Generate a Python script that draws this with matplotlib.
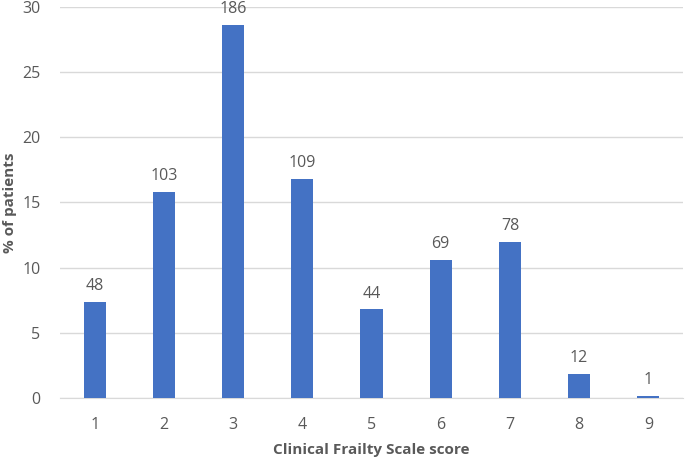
import matplotlib
matplotlib.use("Agg")
import matplotlib.pyplot as plt

categories = ["1", "2", "3", "4", "5", "6", "7", "8", "9"]
percent = [7.4, 15.8, 28.6, 16.8, 6.8, 10.6, 12.0, 1.85, 0.15]
counts = ["48", "103", "186", "109", "44", "69", "78", "12", "1"]

plt.rcParams['font.family'] = ['Open Sans', 'DejaVu Sans']
gray = "#595959"

fig = plt.figure(figsize=(6.85, 4.61), dpi=100)
ax = fig.add_axes([0.0876, 0.1367, 0.9094, 0.8483])
x = list(range(len(categories)))
bars = ax.bar(x, percent, width=0.32, color="#4472C4", zorder=3)
for xi, p, c in zip(x, percent, counts):
    ax.text(xi, p + 0.6, c, ha="center", va="bottom", fontsize=11.5, color=gray)

ax.set_xlim(-0.5, len(categories) - 0.5)
ax.set_ylim(0, 30)
ax.set_yticks([0, 5, 10, 15, 20, 25, 30])
ax.set_xticks(x)
ax.set_xticklabels(categories)
ax.yaxis.grid(True, color="#D9D9D9", linewidth=1, zorder=0)
for s in ["top", "right", "left"]:
    ax.spines[s].set_visible(False)
ax.spines["bottom"].set_color("#D9D9D9")
ax.tick_params(axis="both", length=0, labelsize=11.5, colors=gray)
ax.tick_params(axis="x", pad=14)
ax.tick_params(axis="y", pad=14)
ax.set_xlabel("Clinical Frailty Scale score", fontsize=11, fontweight="bold", color=gray, va="center")
ax.set_ylabel("% of patients", fontsize=11, fontweight="bold", color=gray, va="center")
ax.xaxis.set_label_coords(0.5, -0.133)
ax.yaxis.set_label_coords(-0.080, 0.5)

fig.savefig("out.png", dpi=100)
